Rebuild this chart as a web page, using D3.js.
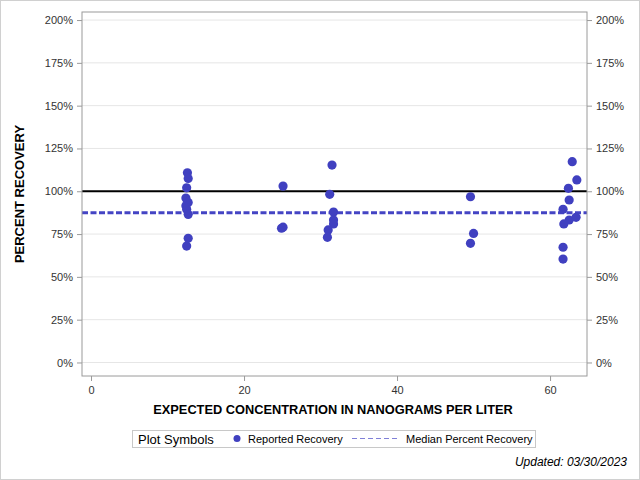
<!DOCTYPE html>
<html><head><meta charset="utf-8">
<script src="https://cdn.jsdelivr.net/npm/d3@7"></script>
<style>body{margin:0;background:#fff}svg{display:block}</style>
</head><body>
<script>
// Data
const concentration = [12.6,12.7,12.5,12.4,12.7,12.4,12.5,12.7,12.7,12.5,
  25.1,24.9,25.1,
  31.5,31.2,31.7,31.7,31.7,31.0,30.9,
  49.6,50.0,49.6,
  62.9,63.5,62.4,62.5,61.7,62.5,63.4,61.8,61.7,61.7];
const recovery = [110.8,107.5,102.0,96.0,93.5,91.5,89.5,86.5,72.5,68.0,
  103.0,78.4,79.0,
  115.3,98.2,87.9,83.2,80.9,77.4,73.1,
  96.8,75.4,69.6,
  117.3,106.6,101.7,94.9,89.5,83.2,84.8,80.9,67.3,60.4];
const medianRecovery = 87.4;
const xTicks = [0,20,40,60];
const yTicks = [0,25,50,75,100,125,150,175,200];

const W=640,H=480;
const L=82,R=587,T=12,B=376;
const svg=d3.select("body").append("svg").attr("width",W).attr("height",H)
  .style("font-family","'Liberation Sans',Arial,sans-serif");
svg.append("rect").attr("x",0.5).attr("y",0.5).attr("width",W-1).attr("height",H-1)
  .attr("fill","#fff").attr("stroke","#d0d0d0");

const x=d3.scaleLinear().domain([-1.18,64.83]).range([L,R]);
const y=d3.scaleLinear().domain([-7.9,204.7]).range([B,T]);

// gridlines
svg.append("g").selectAll("line").data(yTicks).join("line")
  .attr("x1",L).attr("x2",R).attr("y1",d=>y(d)).attr("y2",d=>y(d))
  .attr("stroke","#e6e6e6").attr("stroke-width",1);

// reference line 100%
svg.append("line").attr("x1",L).attr("x2",R).attr("y1",y(100)).attr("y2",y(100))
  .attr("stroke","#000").attr("stroke-width",2);

// median line
svg.append("line").attr("x1",L).attr("x2",R).attr("y1",y(medianRecovery)).attr("y2",y(medianRecovery))
  .attr("stroke","#4444c4").attr("stroke-width",3).attr("stroke-dasharray","6,2.5");

// points
svg.append("g").selectAll("circle").data(recovery).join("circle")
  .attr("cx",(d,i)=>x(concentration[i])).attr("cy",d=>y(d)).attr("r",4.6)
  .attr("fill","#4040c0");

// frame
svg.append("rect").attr("x",L).attr("y",T).attr("width",R-L).attr("height",B-T)
  .attr("fill","none").attr("stroke","#9a9a9a");

const fmt=d=>d+"%";
const ax=g=>{g.selectAll(".domain").remove();g.selectAll("line").attr("stroke","#9a9a9a");
  g.selectAll("text").attr("fill","#333").style("font-size","11px").style("font-family","'Liberation Sans',Arial,sans-serif");};
svg.append("g").attr("transform",`translate(${L},0)`)
  .call(d3.axisLeft(y).tickValues(yTicks).tickFormat(fmt).tickSize(5).tickPadding(4)).call(ax);
svg.append("g").attr("transform",`translate(${R},0)`)
  .call(d3.axisRight(y).tickValues(yTicks).tickFormat(fmt).tickSize(5).tickPadding(4)).call(ax);
svg.append("g").attr("transform",`translate(0,${B})`)
  .call(d3.axisBottom(x).tickValues(xTicks).tickSize(5).tickPadding(5)).call(ax);

svg.append("text").attr("x",333).attr("y",414).attr("text-anchor","middle")
  .style("font-size","12.8px").style("font-weight","bold").attr("fill","#000")
  .text("EXPECTED CONCENTRATION IN NANOGRAMS PER LITER");
svg.append("text").attr("transform",`translate(24,${(T+B)/2}) rotate(-90)`).attr("text-anchor","middle")
  .style("font-size","13px").style("font-weight","bold").attr("fill","#000")
  .text("PERCENT RECOVERY");

// legend
const lg=svg.append("g");
lg.append("rect").attr("x",132.5).attr("y",430.5).attr("width",403).attr("height",17)
  .attr("fill","#fff").attr("stroke","#c8c8c8");
lg.append("text").attr("x",138).attr("y",444).style("font-size","13px").attr("fill","#000").text("Plot Symbols");
lg.append("circle").attr("cx",237).attr("cy",438.5).attr("r",3.5).attr("fill","#4040c0");
lg.append("text").attr("x",248).attr("y",443).style("font-size","11px").attr("fill","#000").text("Reported Recovery");
lg.append("line").attr("x1",352).attr("x2",398).attr("y1",438.5).attr("y2",438.5)
  .attr("stroke","#8080d8").attr("stroke-width",1).attr("stroke-dasharray","5,3");
lg.append("text").attr("x",406).attr("y",443).style("font-size","11px").attr("fill","#000").text("Median Percent Recovery");
svg.append("text").attr("x",627).attr("y",466).attr("text-anchor","end")
  .style("font-size","12px").style("font-style","italic").attr("fill","#000").text("Updated: 03/30/2023");
</script>
</body></html>
